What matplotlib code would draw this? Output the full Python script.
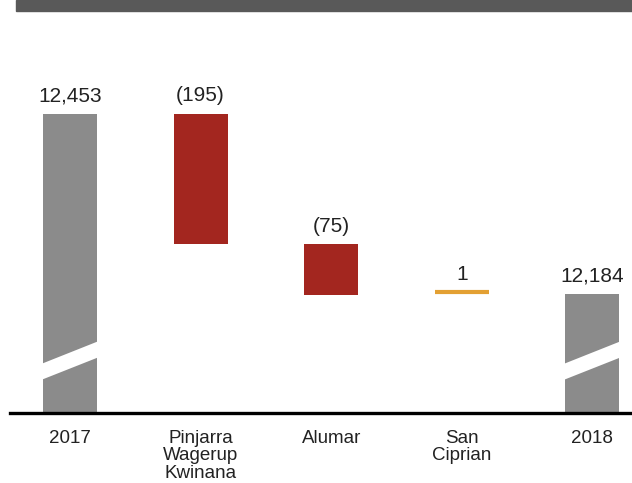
import matplotlib
matplotlib.use("Agg")
import matplotlib.pyplot as plt
from matplotlib.patches import Rectangle, Polygon
import matplotlib.transforms as mtransforms

plt.rcParams['font.family'] = ['Liberation Sans', 'DejaVu Sans']

categories = ["2017", "Pinjarra\nWagerup\nKwinana", "Alumar", "San\nCiprian", "2018"]
values = [12453, -195, -75, 1, 12184]
kinds = ["total", "delta", "delta", "delta", "total"]

GREY = "#8b8b8b"
RED = "#a3261f"
ORANGE = "#e3a033"
TEXT = "#222222"

fig = plt.figure(figsize=(6.32, 4.83), dpi=100)
ax = fig.add_axes([0, 70 / 483, 1, 413 / 483])
ybase, ytop = 12006, 12623
ax.set_ylim(ybase, ytop)
ax.set_xlim(-0.536, 4.303)
width = 0.413

trans = mtransforms.blended_transform_factory(ax.transData, ax.transAxes)

def fmt(v, kind):
    if kind == "total":
        return f"{v:,}"
    return f"({abs(v):,})" if v < 0 else f"{v:,}"

running = 0
for i, (v, k) in enumerate(zip(values, kinds)):
    if k == "total":
        ax.bar(i, v - ybase, bottom=ybase, width=width, color=GREY, zorder=2)
        top = v
        running = v
        # break mark
        hw = width / 2 + 0.02
        poly = Polygon([(i - hw, 0.0823 - 0.003), (i + hw, 0.133 + 0.003),
                        (i + hw, 0.172 + 0.003), (i - hw, 0.121 - 0.003)],
                       closed=True, transform=trans, facecolor="white",
                       edgecolor="none", zorder=3)
        ax.add_patch(poly)
    else:
        new = running + v
        if abs(v) <= 1:
            ax.hlines(max(running, new) + 3, i - width / 2, i + width / 2,
                      color=ORANGE, lw=3, zorder=2)
            top = max(running, new) + 3
        else:
            ax.bar(i, abs(v), bottom=min(running, new), width=width,
                   color=RED if v < 0 else GREY, zorder=2)
            top = max(running, new)
        running = new
    ax.annotate(fmt(v, k), (i, top), xytext=(0, 6), textcoords="offset points",
                ha="center", va="bottom", fontsize=15, color=TEXT)

ax.axhline(ybase, xmin=10 / 632, xmax=1, color="black", lw=2.4, zorder=4,
           clip_on=False)

ax.set_xticks(range(len(categories)))
ax.set_xticklabels(categories, fontsize=13.5, color=TEXT, linespacing=1.05)
ax.tick_params(axis="x", length=0, pad=12)
ax.set_yticks([])
for s in ax.spines.values():
    s.set_visible(False)
ax.patch.set_alpha(0)

fig.patches.append(Rectangle((16 / 632, 1 - 11 / 483), 1, 11 / 483,
                             transform=fig.transFigure, color="#595959",
                             zorder=0))

fig.savefig("out.png", dpi=100)
